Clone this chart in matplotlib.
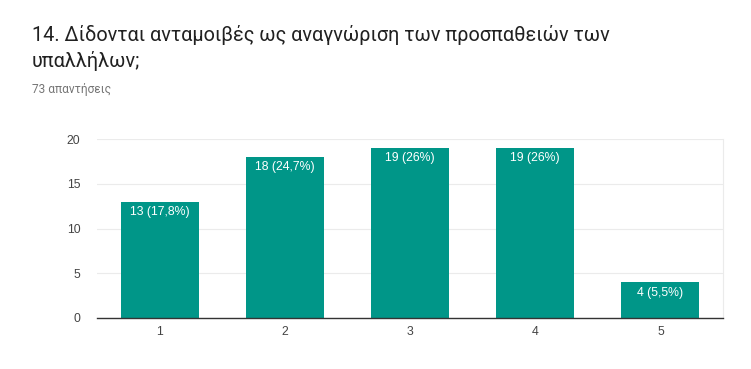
import matplotlib
matplotlib.use("Agg")
import matplotlib.pyplot as plt

categories = ["1", "2", "3", "4", "5"]
counts = [13, 18, 19, 19, 4]
labels = ["13 (17,8%)", "18 (24,7%)", "19 (26%)", "19 (26%)", "4 (5,5%)"]
yticks = [0, 5, 10, 15, 20]

title = "14. Δίδονται ανταμοιβές ως αναγνώριση των προσπαθειών των\nυπαλλήλων;"
subtitle = "73 απαντήσεις"

fig = plt.figure(figsize=(7.51, 3.69), dpi=100)
fig.text(32/751, 1 - 25/369, title, fontsize=14.3, family="Roboto", color="#212121",
         va="top", ha="left", linespacing=1.35)
fig.text(32/751, 1 - 89/369, subtitle, fontsize=8.6, family="Roboto", color="#757575",
         va="center", ha="left")

ax = fig.add_axes([97/751, 1 - 318/369, 626/751, 179/369])
x = list(range(len(categories)))
bars = ax.bar(x, counts, width=0.624, color="#009688", zorder=3)
for xi, c, lab in zip(x, counts, labels):
    ax.annotate(lab, (xi, c), xytext=(0, -3.2), textcoords="offset points",
                ha="center", va="top", color="white", fontsize=8.8,
                family="Liberation Sans", zorder=4)

ax.set_xlim(-0.5, 4.5)
ax.set_ylim(0, 20)
ax.set_yticks(yticks)
ax.set_xticks(x)
ax.set_xticklabels(categories)
ax.grid(axis="y", color="#ebebeb", linewidth=0.8, zorder=0)
for s in ["top", "left"]:
    ax.spines[s].set_visible(False)
ax.spines["right"].set_color("#ebebeb")
ax.spines["right"].set_linewidth(0.8)
ax.spines["bottom"].set_color("#333333")
ax.spines["bottom"].set_linewidth(1.0)
ax.spines["bottom"].set_zorder(5)
ax.tick_params(length=0, labelsize=8.8, colors="#444444", pad=6)
for t in ax.get_xticklabels() + ax.get_yticklabels():
    t.set_family("Liberation Sans")
ax.tick_params(axis="y", pad=12)

fig.savefig("out.png", dpi=100)
